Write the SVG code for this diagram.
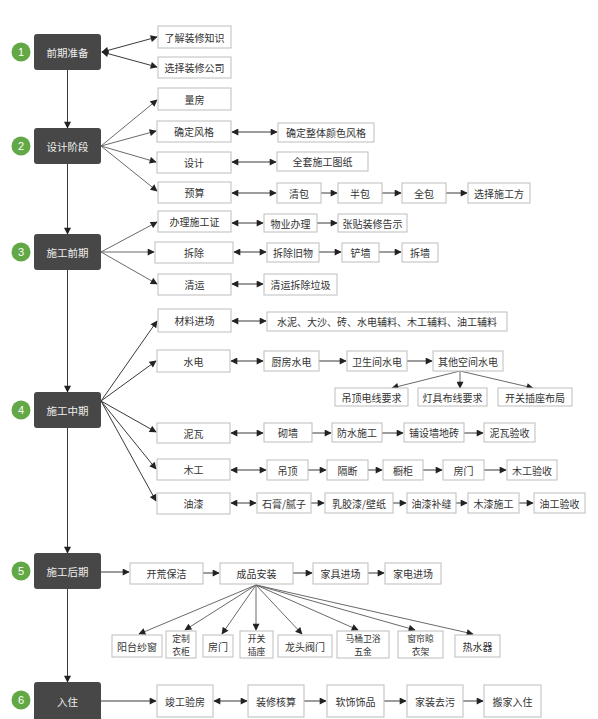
<svg xmlns="http://www.w3.org/2000/svg" width="598" height="719" viewBox="0 0 598 719">
<style>
.dk rect{fill:#474747;}
.dk text{fill:#eeeeee;font-size:10.5px;}
.bx rect{fill:#ffffff;stroke:#bdbdbd;stroke-width:1;}
.bx text{fill:#333333;font-size:10px;}
text{font-family:"Noto Sans CJK SC","Noto Sans",sans-serif;text-anchor:middle;dominant-baseline:central;}
.bx text.m{font-size:8.8px;}
.gc circle{fill:#62a846;}
.gc text{fill:#ffffff;font-size:11px;font-family:"Liberation Sans",sans-serif;}
#conn line{stroke:#3a3a3a;stroke-width:1;marker-end:url(#ah);}
#conn line.g{stroke:#6a6a6a;}
#conn line.d{marker-start:url(#ah);}
</style>
<defs>
<marker id="ah" viewBox="0 0 10 10" refX="9" refY="5" markerWidth="8" markerHeight="7" orient="auto-start-reverse" markerUnits="userSpaceOnUse"><path d="M0,0 L10,5 L0,10 z" fill="#222"/></marker>
</defs>
<rect width="598" height="719" fill="#ffffff"/>

<g id="conn">
<line x1="67.5" y1="70" x2="67.5" y2="128"/>
<line x1="67.5" y1="164" x2="67.5" y2="234"/>
<line x1="67.5" y1="270" x2="67.5" y2="392"/>
<line x1="67.5" y1="428" x2="67.5" y2="553"/>
<line x1="67.5" y1="589" x2="67.5" y2="682"/>
<line class="d" x1="102" y1="52" x2="157" y2="37"/>
<line class="d" x1="102" y1="52" x2="157" y2="67"/>
<line class="g" x1="101" y1="146" x2="157" y2="100"/>
<line class="g" x1="101" y1="146" x2="156" y2="131"/>
<line class="g" x1="101" y1="146" x2="156" y2="162"/>
<line class="g" x1="101" y1="146" x2="157" y2="191"/>
<line class="d" x1="232" y1="132" x2="277" y2="132"/>
<line class="d" x1="232" y1="162" x2="276" y2="162"/>
<line class="d" x1="232" y1="193" x2="276" y2="193"/>
<line x1="321" y1="193" x2="337" y2="193"/>
<line x1="382" y1="193" x2="401" y2="193"/>
<line x1="446" y1="193" x2="467" y2="193"/>
<line class="g" x1="101" y1="252" x2="157" y2="222"/>
<line class="g" x1="101" y1="252" x2="154" y2="252"/>
<line class="g" x1="101" y1="252" x2="157" y2="284"/>
<line class="d" x1="232" y1="223" x2="263" y2="223"/>
<line x1="317" y1="223" x2="337" y2="223"/>
<line class="d" x1="234" y1="252" x2="266" y2="252"/>
<line x1="319" y1="252" x2="341" y2="252"/>
<line x1="379" y1="252" x2="401" y2="252"/>
<line class="d" x1="232" y1="284" x2="263" y2="284"/>
<line x1="101" y1="401" x2="157" y2="321"/>
<line x1="101" y1="401" x2="156" y2="361"/>
<line x1="101" y1="401" x2="156" y2="432"/>
<line x1="101" y1="401" x2="156" y2="469"/>
<line x1="101" y1="401" x2="156" y2="501"/>
<line class="d" x1="232" y1="321" x2="266" y2="321"/>
<line class="d" x1="231" y1="361" x2="263" y2="361"/>
<line x1="319" y1="361" x2="346" y2="361"/>
<line x1="407" y1="361" x2="432" y2="361"/>
<line class="g" x1="460" y1="371" x2="392" y2="388"/>
<line class="g" x1="460" y1="371" x2="460" y2="388"/>
<line class="g" x1="460" y1="371" x2="533" y2="388"/>
<line class="d" x1="231" y1="433" x2="263" y2="433"/>
<line x1="312" y1="433" x2="331" y2="433"/>
<line x1="382" y1="433" x2="403" y2="433"/>
<line x1="464" y1="433" x2="483" y2="433"/>
<line class="d" x1="231" y1="470" x2="266" y2="470"/>
<line x1="308" y1="470" x2="326" y2="470"/>
<line x1="368" y1="470" x2="382" y2="470"/>
<line x1="423" y1="470" x2="442" y2="470"/>
<line x1="484" y1="470" x2="506" y2="470"/>
<line class="d" x1="231" y1="503" x2="256" y2="503"/>
<line x1="311" y1="503" x2="324" y2="503"/>
<line x1="393" y1="503" x2="406" y2="503"/>
<line x1="456" y1="503" x2="467" y2="503"/>
<line x1="519" y1="503" x2="533" y2="503"/>
<line x1="101" y1="572" x2="129" y2="572"/>
<line x1="203" y1="573" x2="219" y2="573"/>
<line x1="293" y1="573" x2="312" y2="573"/>
<line x1="368" y1="573" x2="384" y2="573"/>
<line class="g" x1="256" y1="585" x2="139" y2="634"/>
<line class="g" x1="256" y1="585" x2="185" y2="630"/>
<line class="g" x1="256" y1="585" x2="222" y2="634"/>
<line class="g" x1="256" y1="585" x2="256" y2="630"/>
<line class="g" x1="256" y1="585" x2="302" y2="634"/>
<line class="g" x1="256" y1="585" x2="358" y2="630"/>
<line class="g" x1="256" y1="585" x2="415" y2="630"/>
<line class="g" x1="256" y1="585" x2="473" y2="634"/>
<line x1="101" y1="701" x2="156" y2="701"/>
<line class="d" x1="214" y1="701" x2="247" y2="701"/>
<line x1="304" y1="701" x2="326" y2="701"/>
<line x1="384" y1="701" x2="406" y2="701"/>
<line x1="463" y1="701" x2="483" y2="701"/>
</g>

<g id="phase1" class="dk"><rect x="34" y="34" width="67" height="36" rx="3"/><text x="67.5" y="52">前期准备</text></g>
<g id="phase2" class="dk"><rect x="34" y="128" width="67" height="36" rx="3"/><text x="67.5" y="146">设计阶段</text></g>
<g id="phase3" class="dk"><rect x="34" y="234" width="67" height="36" rx="3"/><text x="67.5" y="252">施工前期</text></g>
<g id="phase4" class="dk"><rect x="34" y="392" width="67" height="36" rx="3"/><text x="67.5" y="410">施工中期</text></g>
<g id="phase5" class="dk"><rect x="34" y="553" width="67" height="36" rx="3"/><text x="67.5" y="571">施工后期</text></g>
<g id="phase6" class="dk"><rect x="34" y="682" width="67" height="40" rx="3"/><text x="67.5" y="701">入住</text></g>

<g id="num1" class="gc"><circle cx="21" cy="52" r="9.5"/><text x="21" y="52">1</text></g>
<g id="num2" class="gc"><circle cx="21" cy="146" r="9.5"/><text x="21" y="146">2</text></g>
<g id="num3" class="gc"><circle cx="21" cy="252" r="9.5"/><text x="21" y="252">3</text></g>
<g id="num4" class="gc"><circle cx="21" cy="410" r="9.5"/><text x="21" y="410">4</text></g>
<g id="num5" class="gc"><circle cx="21" cy="571" r="9.5"/><text x="21" y="571">5</text></g>
<g id="num6" class="gc"><circle cx="21" cy="700" r="9.5"/><text x="21" y="700">6</text></g>

<g id="n_liaojie" class="bx"><rect x="158" y="26" width="73" height="22"/><text x="194.5" y="37">了解装修知识</text></g>
<g id="n_xuanze" class="bx"><rect x="158" y="57" width="73" height="21"/><text x="194.5" y="67.5">选择装修公司</text></g>

<g id="n_liangfang" class="bx"><rect x="158" y="88" width="73" height="22"/><text x="194.5" y="99">量房</text></g>
<g id="n_fengge" class="bx"><rect x="157" y="121" width="74" height="21"/><text x="194" y="131.5">确定风格</text></g>
<g id="n_yanse" class="bx"><rect x="278" y="123" width="96" height="19"/><text x="326" y="132.5">确定整体颜色风格</text></g>
<g id="n_sheji" class="bx"><rect x="157" y="152" width="74" height="21"/><text x="194" y="162.5">设计</text></g>
<g id="n_tuzhi" class="bx"><rect x="277" y="152" width="91" height="19"/><text x="322.5" y="161.5">全套施工图纸</text></g>
<g id="n_yusuan" class="bx"><rect x="158" y="182" width="73" height="21"/><text x="194.5" y="192.5">预算</text></g>
<g id="n_qingbao" class="bx"><rect x="277" y="183" width="44" height="20"/><text x="299" y="193">清包</text></g>
<g id="n_banbao" class="bx"><rect x="338" y="183" width="44" height="20"/><text x="360" y="193">半包</text></g>
<g id="n_quanbao" class="bx"><rect x="402" y="183" width="44" height="20"/><text x="424" y="193">全包</text></g>
<g id="n_shigongfang" class="bx"><rect x="468" y="183" width="62" height="20"/><text x="499" y="193">选择施工方</text></g>

<g id="n_banli" class="bx"><rect x="158" y="211" width="73" height="21"/><text x="194.5" y="221.5">办理施工证</text></g>
<g id="n_wuye" class="bx"><rect x="264" y="214" width="53" height="18"/><text x="290.5" y="223">物业办理</text></g>
<g id="n_zhangtie" class="bx"><rect x="338" y="214" width="69" height="18"/><text x="372.5" y="223">张贴装修告示</text></g>
<g id="n_chaichu" class="bx"><rect x="155" y="242" width="78" height="21"/><text x="194" y="252.5">拆除</text></g>
<g id="n_jiuwu" class="bx"><rect x="267" y="243" width="52" height="19"/><text x="293" y="252.5">拆除旧物</text></g>
<g id="n_chanqiang" class="bx"><rect x="342" y="243" width="37" height="19"/><text x="360.5" y="252.5">铲墙</text></g>
<g id="n_chaiqiang" class="bx"><rect x="402" y="243" width="36" height="19"/><text x="420" y="252.5">拆墙</text></g>
<g id="n_qingyun" class="bx"><rect x="158" y="274" width="73" height="21"/><text x="194.5" y="284.5">清运</text></g>
<g id="n_laji" class="bx"><rect x="264" y="274" width="73" height="21"/><text x="300.5" y="284.5">清运拆除垃圾</text></g>

<g id="n_cailiao" class="bx"><rect x="158" y="309" width="73" height="23"/><text x="194.5" y="320.5">材料进场</text></g>
<g id="n_shuini" class="bx"><rect x="267" y="312" width="240" height="19"/><text x="387" y="321.5">水泥、大沙、砖、水电辅料、木工辅料、油工辅料</text></g>
<g id="n_shuidian" class="bx"><rect x="157" y="350" width="73" height="22"/><text x="193.5" y="361">水电</text></g>
<g id="n_chufang" class="bx"><rect x="264" y="351" width="55" height="20"/><text x="291.5" y="361">厨房水电</text></g>
<g id="n_weisheng" class="bx"><rect x="347" y="351" width="60" height="20"/><text x="377" y="361">卫生间水电</text></g>
<g id="n_qita" class="bx"><rect x="433" y="351" width="70" height="20"/><text x="468" y="361">其他空间水电</text></g>
<g id="n_diaodingdx" class="bx"><rect x="335" y="388" width="73" height="18"/><text x="371.5" y="397">吊顶电线要求</text></g>
<g id="n_dengju" class="bx"><rect x="418" y="388" width="69" height="18"/><text x="452.5" y="397">灯具布线要求</text></g>
<g id="n_kaiguanbj" class="bx"><rect x="498" y="388" width="74" height="18"/><text x="535" y="397">开关插座布局</text></g>

<g id="n_niwa" class="bx"><rect x="157" y="423" width="73" height="20"/><text x="193.5" y="433">泥瓦</text></g>
<g id="n_qiqiang" class="bx"><rect x="264" y="423" width="48" height="19"/><text x="288" y="432.5">砌墙</text></g>
<g id="n_fangshui" class="bx"><rect x="332" y="423" width="50" height="19"/><text x="357" y="432.5">防水施工</text></g>
<g id="n_pushe" class="bx"><rect x="404" y="423" width="60" height="19"/><text x="434" y="432.5">铺设墙地砖</text></g>
<g id="n_niwayanshou" class="bx"><rect x="484" y="423" width="51" height="19"/><text x="509.5" y="432.5">泥瓦验收</text></g>

<g id="n_mugong" class="bx"><rect x="157" y="459" width="73" height="21"/><text x="193.5" y="469.5">木工</text></g>
<g id="n_diaoding" class="bx"><rect x="267" y="460" width="41" height="20"/><text x="287.5" y="470">吊顶</text></g>
<g id="n_geduan" class="bx"><rect x="327" y="460" width="41" height="20"/><text x="347.5" y="470">隔断</text></g>
<g id="n_chugui" class="bx"><rect x="383" y="460" width="40" height="20"/><text x="403" y="470">橱柜</text></g>
<g id="n_fangmen1" class="bx"><rect x="443" y="460" width="41" height="20"/><text x="463.5" y="470">房门</text></g>
<g id="n_mugongyanshou" class="bx"><rect x="507" y="460" width="50" height="20"/><text x="532" y="470">木工验收</text></g>

<g id="n_youqi" class="bx"><rect x="157" y="493" width="73" height="21"/><text x="193.5" y="503.5">油漆</text></g>
<g id="n_shigao" class="bx"><rect x="257" y="493" width="54" height="20"/><text x="284" y="503">石膏/腻子</text></g>
<g id="n_rujiao" class="bx"><rect x="325" y="493" width="68" height="20"/><text x="359" y="503">乳胶漆/壁纸</text></g>
<g id="n_bufeng" class="bx"><rect x="407" y="493" width="49" height="20"/><text x="431.5" y="503">油漆补缝</text></g>
<g id="n_muqi" class="bx"><rect x="468" y="493" width="51" height="20"/><text x="493.5" y="503">木漆施工</text></g>
<g id="n_yougongyanshou" class="bx"><rect x="534" y="493" width="51" height="20"/><text x="559.5" y="503">油工验收</text></g>

<g id="n_kaihuang" class="bx"><rect x="130" y="563" width="73" height="21"/><text x="166.5" y="573.5">开荒保洁</text></g>
<g id="n_chengpin" class="bx"><rect x="220" y="563" width="73" height="21"/><text x="256.5" y="573.5">成品安装</text></g>
<g id="n_jiaju" class="bx"><rect x="313" y="563" width="55" height="21"/><text x="340.5" y="573.5">家具进场</text></g>
<g id="n_jiadian" class="bx"><rect x="385" y="563" width="56" height="21"/><text x="413" y="573.5">家电进场</text></g>

<g id="n_yangtai" class="bx"><rect x="112" y="635" width="50" height="22"/><text x="137" y="646">阳台纱窗</text></g>
<g id="n_dingzhi" class="bx"><rect x="166" y="631" width="30" height="27"/><text class="m" x="181" y="638.3">定制</text><text class="m" x="181" y="651.1">衣柜</text></g>
<g id="n_fangmen2" class="bx"><rect x="203" y="635" width="30" height="22"/><text x="218" y="646">房门</text></g>
<g id="n_kaiguan" class="bx"><rect x="240" y="631" width="33" height="27"/><text class="m" x="256.5" y="638.3">开关</text><text class="m" x="256.5" y="651.1">插座</text></g>
<g id="n_longtou" class="bx"><rect x="278" y="635" width="54" height="22"/><text x="305" y="646">龙头阀门</text></g>
<g id="n_matong" class="bx"><rect x="337" y="631" width="52" height="27"/><text class="m" x="363" y="638.3">马桶卫浴</text><text class="m" x="363" y="651.1">五金</text></g>
<g id="n_chuanglian" class="bx"><rect x="398" y="631" width="45" height="27"/><text class="m" x="420.5" y="638.3">窗帘晾</text><text class="m" x="420.5" y="651.1">衣架</text></g>
<g id="n_reshuiqi" class="bx"><rect x="455" y="635" width="45" height="22"/><text x="477.5" y="646">热水器</text></g>

<g id="n_jungong" class="bx"><rect x="157" y="685" width="56" height="32"/><text x="185" y="701">竣工验房</text></g>
<g id="n_hesuan" class="bx"><rect x="248" y="685" width="56" height="32"/><text x="276" y="701">装修核算</text></g>
<g id="n_ruanshi" class="bx"><rect x="327" y="685" width="57" height="32"/><text x="355.5" y="701">软饰饰品</text></g>
<g id="n_quwu" class="bx"><rect x="407" y="685" width="56" height="32"/><text x="435" y="701">家装去污</text></g>
<g id="n_banjia" class="bx"><rect x="484" y="685" width="57" height="32"/><text x="512.5" y="701">搬家入住</text></g>
</svg>
